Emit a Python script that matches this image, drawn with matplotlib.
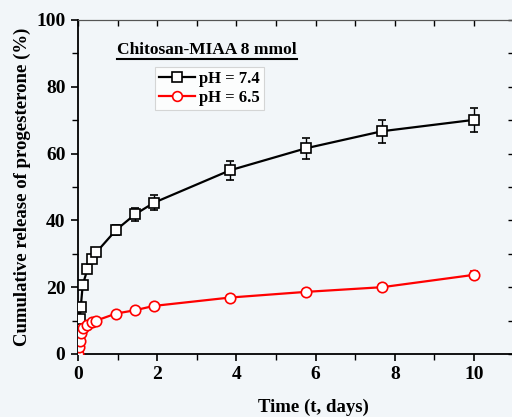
import matplotlib
matplotlib.use("Agg")
import matplotlib.pyplot as plt
from matplotlib.lines import Line2D
from matplotlib.ticker import MultipleLocator

# release data (time in days, release in %)
t_74 = [0, 0.02, 0.04, 0.07, 0.12, 0.24, 0.35, 0.46, 0.96, 1.44, 1.92, 3.84, 5.76, 7.68, 10.0]
rel_74 = [0, 7.5, 10.5, 14.0, 20.7, 25.4, 28.4, 30.4, 37.1, 41.8, 45.3, 55.0, 61.6, 66.7, 70.1]
err_74 = [0, 0.5, 0.6, 0.8, 1.0, 1.0, 1.2, 1.2, 1.5, 2.0, 2.2, 2.8, 3.2, 3.4, 3.5]

t_65 = [0, 0.02, 0.04, 0.07, 0.12, 0.24, 0.35, 0.46, 0.96, 1.44, 1.92, 3.84, 5.76, 7.68, 10.0]
rel_65 = [0, 2.0, 4.0, 6.2, 7.7, 8.7, 9.5, 10.0, 12.1, 13.1, 14.4, 16.9, 18.6, 20.0, 23.7]
err_65 = [0, 0.3, 0.3, 0.4, 0.5, 0.5, 0.5, 0.5, 0.6, 0.6, 0.7, 0.7, 0.8, 0.9, 1.0]

series_labels = ["pH = 7.4", "pH = 6.5"]
title_text = "Chitosan-MIAA 8 mmol"

bg = "#f2f6f9"
serif = "Liberation Serif"

fig = plt.figure(figsize=(5.12, 4.17), dpi=100, facecolor=bg)
ax = fig.add_axes([0.1523, 0.1511, 0.851, 0.801])
ax.set_facecolor(bg)

ax.errorbar(t_74, rel_74, yerr=err_74, color="black", lw=1.6, marker="s", ms=7.5,
            mfc="white", mec="black", mew=1.2, capsize=3, elinewidth=1.0, zorder=3)
ax.errorbar(t_65, rel_65, yerr=err_65, color="red", lw=1.6, marker="o", ms=7.5,
            mfc="white", mec="red", mew=1.2, capsize=3, elinewidth=1.0, zorder=3)

ax.set_xlim(0, 11)
ax.set_ylim(0, 100)
ax.xaxis.set_major_locator(MultipleLocator(2))
ax.xaxis.set_minor_locator(MultipleLocator(1))
ax.yaxis.set_major_locator(MultipleLocator(20))
ax.yaxis.set_minor_locator(MultipleLocator(10))

ax.tick_params(which="both", direction="out", top=False, right=False)
ax.tick_params(which="major", length=5, width=1.2)
ax.tick_params(which="minor", length=4, width=1.0)
ax.tick_params(axis="both", labelsize=14, pad=4)
for lbl in ax.get_xticklabels() + ax.get_yticklabels():
    lbl.set_fontfamily(serif)
    lbl.set_fontweight("bold")

# top and right ticks pointing inward
sec_x = ax.secondary_xaxis("top")
sec_x.xaxis.set_major_locator(MultipleLocator(2))
sec_x.xaxis.set_minor_locator(MultipleLocator(1))
sec_x.tick_params(which="both", direction="in", labeltop=False, length=4, width=1.0)
sec_y = ax.secondary_yaxis("right")
sec_y.yaxis.set_major_locator(MultipleLocator(20))
sec_y.yaxis.set_minor_locator(MultipleLocator(10))
sec_y.tick_params(which="both", direction="in", labelright=False, length=4, width=1.0)

for s in ["left", "bottom"]:
    ax.spines[s].set_linewidth(1.3)
ax.spines["top"].set_color("#555555")
sec_x.spines["top"].set_color("#555555")

ax.set_xlabel("Time (t, days)", fontfamily=serif, fontweight="bold", fontsize=13.5, labelpad=12)
ax.xaxis.set_label_coords(0.54, -0.135)
ax.set_ylabel("Cumulative release of progesterone (%)", fontfamily=serif,
              fontweight="bold", fontsize=13.5, labelpad=4)

handles = [
    Line2D([], [], color="black", lw=1.6, marker="s", ms=7, mfc="white", mec="black", mew=1.2),
    Line2D([], [], color="red", lw=1.6, marker="o", ms=7, mfc="white", mec="red", mew=1.2),
]
leg = ax.legend(handles, series_labels, loc="upper left", bbox_to_anchor=(0.176, 0.86),
                frameon=True, fancybox=False,
                prop={"family": serif, "weight": "bold", "size": 12}, handlelength=2.2,
                borderpad=0.25, labelspacing=0.2, handletextpad=0.2, borderaxespad=0)
leg.get_frame().set_edgecolor("#cccccc")
leg.get_frame().set_facecolor("white")
leg.get_frame().set_linewidth(0.8)

title = ax.text(0.296, 0.91, title_text, transform=ax.transAxes, ha="center", va="center",
                fontfamily=serif, fontweight="heavy", fontsize=12.5)

# underline the title
fig.canvas.draw()
bb = title.get_window_extent().transformed(fig.transFigure.inverted())
fig.add_artist(Line2D([bb.x0, bb.x1], [bb.y0 - 0.002, bb.y0 - 0.002], color="black",
                      lw=1.5, transform=fig.transFigure))

fig.savefig("out.png", dpi=100, facecolor=bg)
